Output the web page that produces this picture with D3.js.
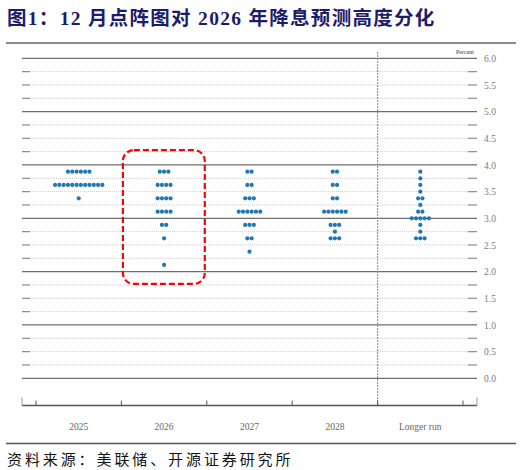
<!DOCTYPE html>
<html>
<head>
<meta charset="utf-8">
<script src="https://cdn.jsdelivr.net/npm/d3@7"></script>
<style>
  body { margin: 0; background: #fff; }
  svg { display: block; }
</style>
</head>
<body>
<svg id="chart" width="522" height="470"></svg>
<script>
// Dot plot data: one array of {rate, count} per column
const categories = ["2025", "2026", "2027", "2028", "Longer run"];
const dots2025 = [
  { rate: 3.875, count: 6 }, { rate: 3.625, count: 12 }, { rate: 3.375, count: 1 }
];
const dots2026 = [
  { rate: 3.875, count: 3 }, { rate: 3.625, count: 4 }, { rate: 3.375, count: 4 },
  { rate: 3.125, count: 4 }, { rate: 2.875, count: 2 }, { rate: 2.625, count: 1 },
  { rate: 2.125, count: 1 }
];
const dots2027 = [
  { rate: 3.875, count: 2 }, { rate: 3.625, count: 2 }, { rate: 3.375, count: 3 },
  { rate: 3.125, count: 6 }, { rate: 2.875, count: 3 }, { rate: 2.625, count: 2 },
  { rate: 2.375, count: 1 }
];
const dots2028 = [
  { rate: 3.875, count: 2 }, { rate: 3.625, count: 2 }, { rate: 3.375, count: 2 },
  { rate: 3.125, count: 6 }, { rate: 2.875, count: 3 }, { rate: 2.75, count: 1 },
  { rate: 2.625, count: 3 }
];
const dotsLongerRun = [
  { rate: 3.875, count: 1 }, { rate: 3.75, count: 1 }, { rate: 3.625, count: 1 },
  { rate: 3.5, count: 1 }, { rate: 3.375, count: 2 }, { rate: 3.25, count: 1 },
  { rate: 3.125, count: 2 }, { rate: 3.0, count: 5 }, { rate: 2.875, count: 1 },
  { rate: 2.75, count: 1 }, { rate: 2.625, count: 3 }
];
const yTickLabels = ["0.0", "0.5", "1.0", "1.5", "2.0", "2.5", "3.0", "3.5", "4.0", "4.5", "5.0", "5.5", "6.0"];
const highlightRange = { category: "2026", top: 4.28, bottom: 1.77 };

const titleText = "图1：12 月点阵图对 2026 年降息预测高度分化";
const sourceText = "资料来源：美联储、开源证券研究所";

const columns = [dots2025, dots2026, dots2027, dots2028, dotsLongerRun];

const svg = d3.select("#chart");

// plot geometry
const axisY = 405.5;
const lineLeft = 22, lineRight = 477;

const x = d3.scaleBand()
  .domain(categories)
  .range([36, 463]);

const y = d3.scaleLinear()
  .domain([0, 6])
  .range([378.3, 58.3]);

const dotStep = 4.3;
const dotColor = "#1f77b4";

// title
svg.append("text")
  .attr("x", 7)
  .attr("y", 25)
  .style("font-family", "'Liberation Serif', 'Noto Sans CJK SC', serif")
  .style("font-weight", "bold")
  .style("font-size", "19.5px")
  .style("letter-spacing", "1.3px")
  .style("fill", "#1c1c6b")
  .text(titleText);

svg.append("line")
  .attr("x1", 6).attr("x2", 516)
  .attr("y1", 43).attr("y2", 43)
  .style("stroke", "#8a8a8a")
  .style("stroke-width", 2);

// horizontal grid
const gridVals = d3.range(0, 6.001, 0.25);
const grid = svg.append("g").attr("class", "grid");

gridVals.forEach(v => {
  const yy = y(v);
  const whole = Math.abs(v - Math.round(v)) < 1e-6;
  if (whole) {
    grid.append("line")
      .attr("x1", lineLeft).attr("x2", lineRight)
      .attr("y1", yy).attr("y2", yy)
      .style("stroke", "#6e6e6e")
      .style("stroke-width", 1.2);
  } else {
    grid.append("line")
      .attr("x1", lineLeft + 8).attr("x2", lineRight - 8)
      .attr("y1", yy).attr("y2", yy)
      .style("stroke", "#cccccc")
      .style("stroke-width", 1)
      .style("stroke-dasharray", "1,1");
    // short solid ticks on both ends
    [[lineLeft, lineLeft + 8], [lineRight - 9, lineRight]].forEach(([a, b]) => {
      grid.append("line")
        .attr("x1", a).attr("x2", b)
        .attr("y1", yy).attr("y2", yy)
        .style("stroke", "#8c8c8c")
        .style("stroke-width", 1.2);
    });
  }
});

// right axis labels
const yAxis = d3.axisRight(y)
  .tickValues(yTickLabels.map(Number))
  .tickFormat((d, i) => yTickLabels[i])
  .tickSize(0)
  .tickPadding(0);

const yAxisG = svg.append("g")
  .attr("transform", `translate(${lineRight + 7},0)`)
  .call(yAxis);
yAxisG.select(".domain").remove();
yAxisG.selectAll("text")
  .style("font-family", "'Liberation Serif', serif")
  .style("font-size", "9.5px")
  .style("fill", "#7a7a7a");

svg.append("text")
  .attr("x", lineRight - 3)
  .attr("y", y(6) - 4)
  .attr("text-anchor", "end")
  .style("font-family", "'Liberation Serif', serif")
  .style("font-size", "6px")
  .style("fill", "#333")
  .text("Percent");

// vertical dotted separator before longer run
const sepX = x("Longer run");
svg.append("line")
  .attr("x1", sepX).attr("x2", sepX)
  .attr("y1", 52).attr("y2", axisY)
  .style("stroke", "#9a9a9a")
  .style("stroke-width", 1.2)
  .style("stroke-dasharray", "2,1");

// bottom axis
const xAxis = d3.axisBottom(x).tickSize(0).tickPadding(0).tickFormat("");
svg.append("g")
  .attr("transform", `translate(0,${axisY})`)
  .call(xAxis)
  .select(".domain").remove();

svg.append("line")
  .attr("x1", lineLeft).attr("x2", lineRight)
  .attr("y1", axisY).attr("y2", axisY)
  .style("stroke", "#555")
  .style("stroke-width", 1.3);

const tickXs = categories.map(c => x(c)).concat([x.range()[1]]);
tickXs.forEach(tx => {
  svg.append("line")
    .attr("x1", tx).attr("x2", tx)
    .attr("y1", axisY - 5).attr("y2", axisY)
    .style("stroke", "#555")
    .style("stroke-width", 1);
});
[lineLeft, lineRight].forEach(tx => {
  svg.append("line")
    .attr("x1", tx).attr("x2", tx)
    .attr("y1", axisY - 8).attr("y2", axisY)
    .style("stroke", "#aaa")
    .style("stroke-width", 1.2);
});

svg.append("g").selectAll("text")
  .data(categories)
  .enter()
  .append("text")
  .attr("x", d => x(d) + x.bandwidth() / 2)
  .attr("y", 430)
  .attr("text-anchor", "middle")
  .style("font-family", "'Liberation Serif', serif")
  .style("font-size", "9.5px")
  .style("fill", "#666")
  .text(d => d);

// dots
const dotData = [];
columns.forEach((col, ci) => {
  const cx = x(categories[ci]) + x.bandwidth() / 2;
  col.forEach(row => {
    for (let k = 0; k < row.count; k++) {
      dotData.push({
        x: cx + (k - (row.count - 1) / 2) * dotStep,
        rate: row.rate
      });
    }
  });
});

svg.append("g").selectAll("circle")
  .data(dotData)
  .enter()
  .append("circle")
  .attr("cx", d => d.x)
  .attr("cy", d => y(d.rate))
  .attr("r", 2.1)
  .style("fill", dotColor);

// highlight box around 2026
const hx = x(highlightRange.category);
svg.append("rect")
  .attr("x", hx + 1.5)
  .attr("y", y(highlightRange.top))
  .attr("width", x.bandwidth() - 3.5)
  .attr("height", y(highlightRange.bottom) - y(highlightRange.top))
  .attr("rx", 11)
  .attr("ry", 11)
  .style("fill", "none")
  .style("stroke", "#ff0000")
  .style("stroke-width", 2.2)
  .style("stroke-dasharray", "6,3");

// source footer
svg.append("line")
  .attr("x1", 6).attr("x2", 516)
  .attr("y1", 443.5).attr("y2", 443.5)
  .style("stroke", "#555")
  .style("stroke-width", 1.5);

svg.append("text")
  .attr("x", 7)
  .attr("y", 465)
  .style("font-family", "'Noto Sans CJK SC', sans-serif")
  .style("font-size", "15px")
  .style("letter-spacing", "2.9px")
  .style("fill", "#111")
  .text(sourceText);
</script>
</body>
</html>
